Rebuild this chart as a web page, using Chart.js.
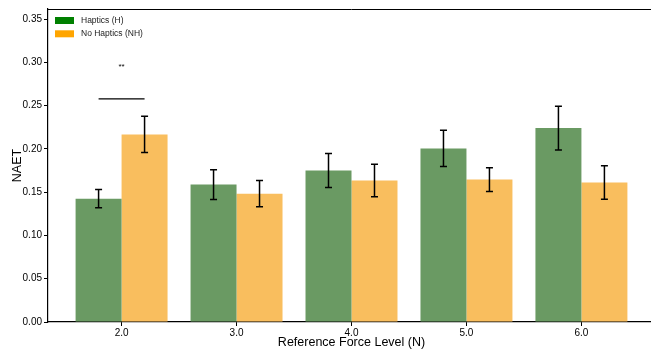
<!DOCTYPE html>
<html>
<head>
<meta charset="utf-8">
<script src="https://cdn.jsdelivr.net/npm/chart.js@4/dist/chart.umd.min.js"></script>
<style>
  html, body { margin: 0; padding: 0; background: #fff; overflow: hidden; }
  #wrap { width: 655px; height: 352px; }
</style>
</head>
<body>
<div id="wrap"><canvas id="c" width="655" height="352"></canvas></div>
<script>
// Reference force levels (N) on the x axis
const forceLevels = [2.0, 3.0, 4.0, 5.0, 6.0];
const xTicks = [2.0, 3.0, 4.0, 5.0, 6.0];
const yTicks = [0.00, 0.05, 0.10, 0.15, 0.20, 0.25, 0.30, 0.35];

// Mean NAET and error half-widths per condition
const hapticsMean = [0.1425, 0.1588, 0.1750, 0.2005, 0.2240];
const hapticsErr = [0.0105, 0.0172, 0.0197, 0.0209, 0.0253];
const noHapticsMean = [0.2167, 0.1483, 0.1634, 0.1646, 0.1611];
const noHapticsErr = [0.0210, 0.0151, 0.0187, 0.0137, 0.0194];

// Significance annotations
const sigX = [2.0];
const sigLineY = [0.2577];
const sigTextY = [0.2950];
const sigLabel = ['**'];

const FONT = '"Liberation Sans", Arial, Helvetica, sans-serif';
const GREEN = 'rgb(106,154,99)';
const ORANGE = 'rgb(249,190,94)';

const errors = [hapticsErr, noHapticsErr];
const means = [hapticsMean, noHapticsMean];

const errorBars = {
  id: 'errorBars',
  afterDatasetsDraw(chart) {
    const ctx = chart.ctx;
    const y = chart.scales.y;
    ctx.save();
    ctx.strokeStyle = '#000';
    ctx.lineWidth = 1.5;
    chart.data.datasets.forEach((ds, d) => {
      const meta = chart.getDatasetMeta(d);
      meta.data.forEach((bar, i) => {
        const top = y.getPixelForValue(means[d][i] + errors[d][i]);
        const bot = y.getPixelForValue(means[d][i] - errors[d][i]);
        const x = bar.x;
        ctx.beginPath();
        ctx.moveTo(x, top); ctx.lineTo(x, bot);
        ctx.moveTo(x - 3.5, top); ctx.lineTo(x + 3.5, top);
        ctx.moveTo(x - 3.5, bot); ctx.lineTo(x + 3.5, bot);
        ctx.stroke();
      });
    });
    ctx.restore();
  }
};

const annotations = {
  id: 'annotations',
  afterDraw(chart) {
    const ctx = chart.ctx;
    const xs = chart.scales.x, ys = chart.scales.y;
    const a = chart.chartArea;
    ctx.save();
    // significance brackets
    ctx.strokeStyle = '#000';
    ctx.lineWidth = 1.2;
    ctx.fillStyle = '#000';
    sigX.forEach((sx, k) => {
      const yl = ys.getPixelForValue(sigLineY[k]);
      ctx.beginPath();
      ctx.moveTo(xs.getPixelForValue(sx - 0.2), yl);
      ctx.lineTo(xs.getPixelForValue(sx + 0.2), yl);
      ctx.stroke();
      ctx.font = '8px ' + FONT;
      ctx.textAlign = 'center';
      ctx.textBaseline = 'middle';
      ctx.fillText(sigLabel[k], xs.getPixelForValue(sx), ys.getPixelForValue(sigTextY[k]));
    });
    // top spine
    ctx.lineWidth = 1;
    ctx.beginPath();
    ctx.moveTo(a.left, a.top + 0.5);
    ctx.lineTo(a.right, a.top + 0.5);
    ctx.stroke();
    // legend
    const items = [['Haptics (H)', 'rgb(0,128,0)'], ['No Haptics (NH)', 'rgb(255,165,0)']];
    ctx.font = '8.5px ' + FONT;
    ctx.textAlign = 'left';
    ctx.textBaseline = 'middle';
    items.forEach((it, k) => {
      const yy = 17 + k * 13.3;
      ctx.fillStyle = it[1];
      ctx.fillRect(55, yy, 19, 7);
      ctx.fillStyle = '#222';
      ctx.fillText(it[0], 81, yy + 3.8);
    });
    ctx.restore();
  }
};

new Chart(document.getElementById('c'), {
  type: 'bar',
  data: {
    datasets: [
      { label: 'Haptics (H)', data: forceLevels.map((f, i) => ({ x: f, y: hapticsMean[i] })), backgroundColor: GREEN, borderWidth: 0 },
      { label: 'No Haptics (NH)', data: forceLevels.map((f, i) => ({ x: f, y: noHapticsMean[i] })), backgroundColor: ORANGE, borderWidth: 0 }
    ]
  },
  options: {
    responsive: false,
    animation: false,
    events: [],
    layout: { padding: { top: 9, left: 0, right: 0, bottom: 0 } },
    datasets: { bar: { categoryPercentage: 0.8, barPercentage: 1.0 } },
    plugins: { legend: { display: false }, tooltip: { enabled: false } },
    scales: {
      x: {
        type: 'linear',
        min: 1.36,
        max: 6.64,
        offset: false,
        afterBuildTicks: s => { s.ticks = xTicks.map(v => ({ value: v })); },
        afterFit: s => { s.height = 30; },
        ticks: { font: { family: FONT, size: 10 }, color: '#000', padding: 1, maxRotation: 0, autoSkip: false,
                 callback: v => Number(v).toFixed(1) },
        grid: { offset: false, drawOnChartArea: false, drawTicks: true, tickLength: 4, color: '#000' },
        border: { display: true, color: '#000', width: 1.2 },
        title: { display: true, text: 'Reference Force Level (N)', font: { family: FONT, size: 12.5 }, color: '#000', padding: { top: 0, bottom: 2 } }
      },
      y: {
        min: 0,
        max: 0.3616,
        afterBuildTicks: s => { s.ticks = yTicks.map(v => ({ value: v })); },
        afterFit: s => { s.width = 48; },
        ticks: { font: { family: FONT, size: 10 }, color: '#000', padding: 2, callback: v => Number(v).toFixed(2) },
        grid: { drawOnChartArea: false, drawTicks: true, tickLength: 4, color: '#000' },
        border: { display: true, color: '#000', width: 1.2 },
        title: { display: true, text: 'NAET', font: { family: FONT, size: 12.5 }, color: '#000', padding: { top: 10, bottom: 0 } }
      }
    }
  },
  plugins: [errorBars, annotations]
});
</script>
</body>
</html>
